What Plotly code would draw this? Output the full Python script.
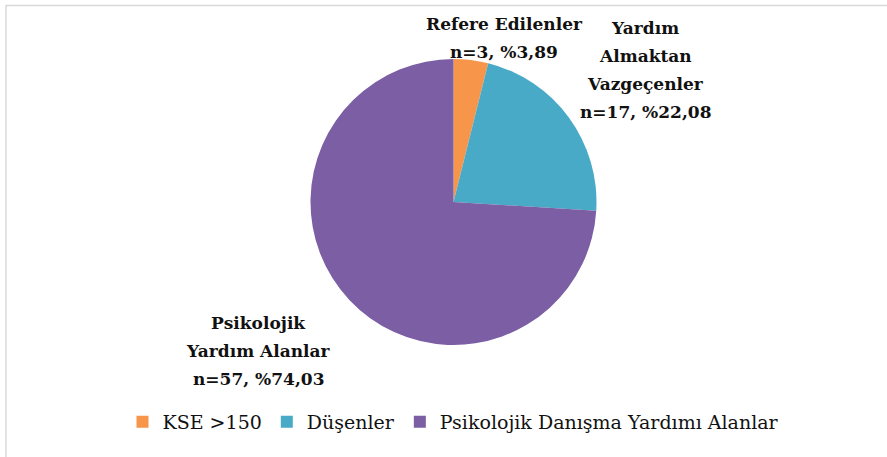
import plotly.graph_objects as go

legend_labels = ["KSE >150", "Düşenler", "Psikolojik Danışma Yardımı Alanlar"]
counts = [3, 17, 57]
percents = ["3,89", "22,08", "74,03"]
slice_titles = [["Refere Edilenler"], ["Yardım", "Almaktan", "Vazgeçenler"], ["Psikolojik", "Yardım Alanlar"]]
colors = ["#F7964A", "#48AAC6", "#7B5EA3"]

W, H = 887, 457
cx, cy, r = 453.5, 202, 143

fig = go.Figure(go.Pie(
    labels=legend_labels,
    values=counts,
    sort=False,
    direction="clockwise",
    rotation=0,
    marker=dict(colors=colors, line=dict(color="white", width=0)),
    textinfo="none",
    hoverinfo="label+value+percent",
    domain=dict(x=[(cx - r) / W, (cx + r) / W], y=[(H - cy - r) / H, (H - cy + r) / H]),
))

# label anchor positions (px from top-left): center x, first line y
label_pos = [(504, 24), (645, 28), (258, 323)]
line_step = 28
annotations = []
for i, (x, y0) in enumerate(label_pos):
    lines = slice_titles[i] + [f"n={counts[i]}, %{percents[i]}"]
    for j, t in enumerate(lines):
        annotations.append(dict(
            x=x / W, y=1 - (y0 + j * line_step) / H, xref="paper", yref="paper",
            text=f"<b>{t}</b>", showarrow=False, xanchor="center", yanchor="middle",
            font=dict(family="DejaVu Serif, serif", size=17, color="#111111"),
        ))

fig.update_layout(
    width=W, height=H,
    margin=dict(l=0, r=0, t=0, b=0),
    paper_bgcolor="white",
    plot_bgcolor="white",
    showlegend=True,
    legend=dict(
        orientation="h", x=0.5 + 10 / W, xanchor="center", y=1 - 422 / H, yanchor="middle",
        font=dict(family="DejaVu Serif, serif", size=19, color="#111111"),
        itemclick=False, traceorder="normal",
    ),
    annotations=annotations,
    shapes=[dict(type="rect", xref="paper", yref="paper",
                 x0=6 / W, x1=1.2, y0=-0.2, y1=1 - 5.5 / H,
                 line=dict(color="#d9d9d9", width=1.5), fillcolor="rgba(0,0,0,0)", layer="below")],
)

fig.write_html("out.html", config={"displayModeBar": False},
               post_script="document.body.style.margin='0';")
